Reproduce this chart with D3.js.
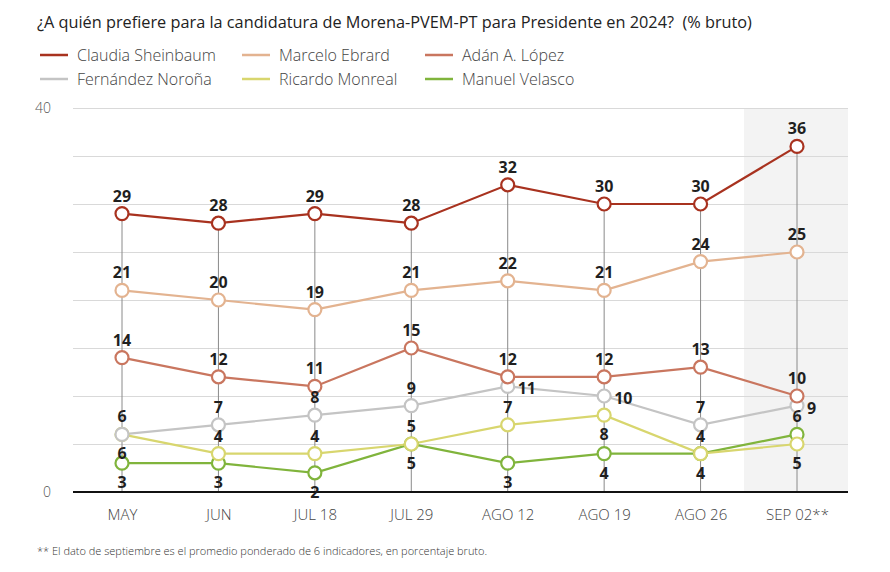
<!DOCTYPE html>
<html><head><meta charset="utf-8">
<script src="https://cdn.jsdelivr.net/npm/d3@7"></script>
<style>
body{margin:0;background:#fff;}
svg{display:block;font-family:"Open Sans",Lato,sans-serif;}
</style></head>
<body><svg id="c" width="890" height="572"></svg>
<script>
const categories = ["MAY","JUN","JUL 18","JUL 29","AGO 12","AGO 19","AGO 26","SEP 02**"];
const seriesNames = ["Claudia Sheinbaum","Marcelo Ebrard","Adán A. López","Fernández Noroña","Ricardo Monreal","Manuel Velasco"];
const sheinbaum = [29,28,29,28,32,30,30,36];
const ebrard    = [21,20,19,21,22,21,24,25];
const lopez     = [14,12,11,15,12,12,13,10];
const norona    = [6,7,8,9,11,10,7,9];
const monreal   = [6,4,4,5,7,8,4,5];
const velasco   = [3,3,2,5,3,4,4,6];
const yTicks = [0,40];
const gridTicks = [5,10,15,20,25,30,35,40];
// label placement: a=above, b=below, r=right
const labelPlace = [
  ["a","a","a","a","a","a","a","a"],
  ["a","a","a","a","a","a","a","a"],
  ["a","a","a","a","a","a","a","a"],
  ["a","a","a","a","r","r","a","r"],
  ["b","a","a","a","a","b","a","b"],
  ["b","b","b","b","b","b","b","a"]
];
const colors = ["#a8321f","#e3b390","#c9765f","#c4c4c4","#d8d66e","#80b43c"];
const title = "¿A quién prefiere para la candidatura de Morena-PVEM-PT para Presidente en 2024?  (% bruto)";
const footnote = "** El dato de septiembre es el promedio ponderado de 6 indicadores, en porcentaje bruto.";

(function(){
const data = [sheinbaum, ebrard, lopez, norona, monreal, velasco];
const svg = d3.select("#c");
const mL = 73, mR = 848, mT = 108, mB = 492;
const x = d3.scalePoint().domain(categories).range([122, 797]);
const y = d3.scaleLinear().domain([0,40]).range([mB, mT]);

// shaded last period
const step = x.step();
const sx = x(categories[7]) - step*0.55;
svg.append("rect").attr("x", sx).attr("y", mT)
  .attr("width", mR - sx).attr("height", mB - mT)
  .attr("fill", "#f3f3f3");

// grid
const grid = svg.append("g").attr("transform", `translate(${mL},0)`)
  .call(d3.axisLeft(y).tickValues(gridTicks).tickSize(-(mR-mL)).tickFormat(""));
grid.select(".domain").remove();
grid.selectAll("line").attr("stroke", "#d9d9d9").attr("stroke-width", 1);

// y labels
const ya = svg.append("g").attr("transform", `translate(${mL},0)`)
  .call(d3.axisLeft(y).tickValues(yTicks).tickSize(0).tickPadding(22));
ya.select(".domain").remove();
ya.attr("font-family", null);
ya.selectAll("text").attr("font-size", 14).attr("fill", "#555").attr("font-weight", 300);

// vertical guide lines
svg.append("g").selectAll("line").data(categories).join("line")
  .attr("x1", d => x(d)).attr("x2", d => x(d))
  .attr("y1", (d,i) => y(d3.max(data, s => s[i]))).attr("y2", mB)
  .attr("stroke", "#8a8a8a").attr("stroke-width", 1);

// baseline
svg.append("line").attr("x1", mL).attr("x2", mR).attr("y1", mB).attr("y2", mB)
  .attr("stroke", "#111").attr("stroke-width", 2);

// x axis
const xa = svg.append("g").attr("transform", `translate(0,${mB})`)
  .call(d3.axisBottom(x).tickSize(0).tickPadding(17));
xa.select(".domain").remove();
xa.attr("font-family", null);
xa.selectAll("text").attr("font-size", 15).attr("fill", "#444").attr("font-weight", 300);

// lines (draw bottom series first)
const line = d3.line().x((d,i) => x(categories[i])).y(d => y(d));
const order = [5,4,3,2,1,0];
order.forEach(si => {
  svg.append("path").datum(data[si]).attr("d", line).attr("fill", "none")
    .attr("stroke", colors[si]).attr("stroke-width", 2.2);
});
order.forEach(si => {
  svg.append("g").selectAll("circle").data(data[si]).join("circle")
    .attr("cx", (d,i) => x(categories[i])).attr("cy", d => y(d)).attr("r", 6.5)
    .attr("fill", "#fff").attr("stroke", colors[si]).attr("stroke-width", 2.2);
});
// labels
data.forEach((s, si) => {
  svg.append("g").selectAll("text").data(s).join("text")
    .attr("x", (d,i) => x(categories[i]) + (labelPlace[si][i] === "r" ? 10 : 0))
    .attr("y", (d,i) => {
      const p = labelPlace[si][i];
      return y(d) + (p === "a" ? -12 : p === "b" ? 25 : 8);
    })
    .attr("text-anchor", (d,i) => labelPlace[si][i] === "r" ? "start" : "middle")
    .attr("font-size", 16).attr("font-weight", 700).attr("fill", "#1f1f1f")
    .text(d => d);
});

// title
svg.append("text").attr("x", 37).attr("y", 28).attr("font-size", 16.3).attr("font-weight", 500)
  .attr("fill", "#222").style("white-space", "pre").text(title);

// legend
const legX = [40, 242, 425];
seriesNames.forEach((n, i) => {
  const col = i % 3, row = Math.floor(i / 3);
  const g = svg.append("g").attr("transform", `translate(${legX[col]},${55 + row*24})`);
  g.append("line").attr("x1", 0).attr("x2", 28).attr("y1", 0).attr("y2", 0)
    .attr("stroke", colors[i]).attr("stroke-width", 2.5);
  g.append("text").attr("x", 37).attr("y", 6).attr("font-size", 16).attr("font-weight", 300)
    .attr("fill", "#444").text(n);
});

// footnote
svg.append("text").attr("x", 37).attr("y", 555).attr("font-size", 11).attr("font-weight", 300)
  .attr("fill", "#333").text(footnote);
})();
</script></body></html>
